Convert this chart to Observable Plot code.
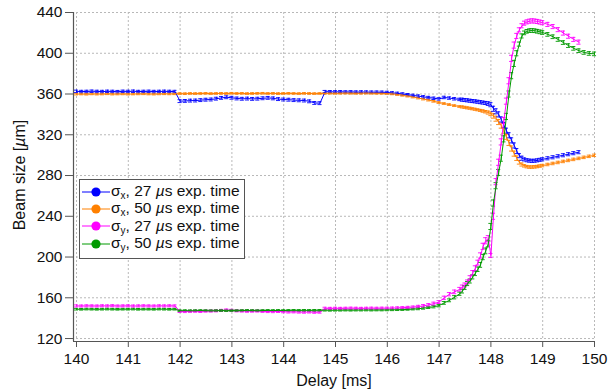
<!DOCTYPE html>
<html>
<head>
<meta charset="utf-8">
<script src="https://cdn.jsdelivr.net/npm/d3@7"></script>
<script src="https://cdn.jsdelivr.net/npm/@observablehq/plot@0.6"></script>
<style>
  html, body { margin: 0; padding: 0; background: #fff; }
  #wrap { position: relative; width: 614px; height: 389px; font-family: "Liberation Sans", Arial, sans-serif; color: #111; }
  #legend { position: absolute; left: 79px; top: 179px; width: 164px; height: 75px; border: 1.5px solid #555; background: #fff; padding-top: 3px; box-sizing: content-box; }
  .row { height: 17.3px; display: flex; align-items: center; font-size: 15.5px; white-space: nowrap; }
  .row svg { margin-left: 2px; margin-right: 1px; flex: none; }
  .row sub { font-size: 10px; vertical-align: -3px; }
  #ylab { position: absolute; left: 20px; top: 175px; transform: translate(-50%, -50%) rotate(-90deg); font-size: 16px; white-space: nowrap; }
  #xlab { position: absolute; left: 334px; top: 381px; transform: translate(-50%, -50%); font-size: 16px; white-space: nowrap; }
</style>
</head>
<body>
<div id="wrap"></div>
<script>
// ---------- data ----------
const delay = [
  140.0,140.1,140.2,140.3,140.4,140.5,140.6,140.7,140.8,140.9,
  141.0,141.1,141.2,141.3,141.4,141.5,141.6,141.7,141.8,141.9,
  142.0,142.1,142.2,142.3,142.4,142.5,142.6,142.7,142.8,142.9,
  143.0,143.1,143.2,143.3,143.4,143.5,143.6,143.7,143.8,143.9,
  144.0,144.1,144.2,144.3,144.4,144.5,144.6,144.7,144.8,144.9,
  145.0,145.1,145.2,145.3,145.4,145.5,145.6,145.7,145.8,145.9,
  146.0,146.1,146.2,146.3,146.4,146.5,146.6,146.7,146.8,146.9,
  147.0,147.1,147.2,147.3,147.4,
  147.45,147.5,147.55,147.6,147.65,147.7,147.75,147.8,147.85,147.9,147.95,148.0,
  148.05,148.1,148.15,148.2,148.25,148.3,148.35,148.4,148.45,148.5,
  148.55,148.6,148.65,148.7,148.75,148.8,148.85,148.9,148.95,149.0,
  149.1,149.2,149.3,149.4,149.5,149.6,149.7,149.8,149.9,150.0
];

const sigmaX27 = [
  362.6,362.4,362.5,362.7,362.5,362.4,362.6,362.5,362.3,362.6,
  362.5,362.7,362.4,362.5,362.6,362.4,362.5,362.6,362.5,362.4,
  353.0,353.2,353.5,353.6,354.0,354.4,354.6,355.4,356.2,356.8,
  356.3,355.6,355.3,355.5,355.2,355.4,355.8,356.2,355.7,355.0,
  354.6,354.4,354.0,353.8,353.6,352.8,351.2,351.0,362.3,362.2,
  362.1,362.2,362.0,362.1,361.9,362.0,361.9,361.8,361.8,361.7,
  361.5,361.1,360.6,360.0,359.3,358.6,357.9,357.2,356.5,355.8,
  355.2,356.6,356.0,355.3,354.7,
  354.4,354.1,353.8,353.4,353.1,352.8,352.4,352.0,351.6,351.2,350.6,349.5,
  345.5,343.0,340.0,335.0,329.5,324.0,319.5,314.5,309.5,304.0,
  299.5,297.0,295.8,295.0,294.6,294.4,294.5,294.9,295.4,295.9,
  296.9,297.9,298.9,299.9,300.9,301.9,302.9,null,null,null
];
const sigmaX50 = [
  359.9,360.0,359.8,360.1,359.9,360.0,360.2,359.9,360.0,360.1,
  359.9,360.0,360.1,360.2,360.0,359.9,360.1,360.2,360.1,360.2,
  360.4,360.3,360.5,360.4,360.5,360.6,360.4,360.5,360.6,360.5,
  360.7,360.5,360.6,360.4,360.5,360.6,360.7,360.5,360.6,360.4,
  360.5,360.6,360.5,360.4,360.6,360.5,360.4,360.5,360.6,360.7,
  360.6,360.7,360.8,360.7,360.6,360.7,360.8,360.7,360.6,360.6,
  360.5,360.1,359.5,358.7,357.9,357.0,356.0,355.0,354.0,352.8,
  351.6,350.6,349.6,348.6,347.7,
  347.3,346.9,346.4,346.0,345.5,345.0,344.5,343.9,343.3,342.6,341.8,340.6,
  338.5,335.8,332.5,329.0,324.0,318.0,312.0,306.5,301.5,297.0,
  293.0,290.8,289.5,288.7,288.3,288.3,288.5,288.8,289.3,289.8,
  290.8,291.8,292.8,293.8,294.8,295.8,296.8,297.8,298.8,299.8
];
const sigmaY27 = [
  152.0,151.9,152.1,152.0,151.9,152.1,152.0,152.2,151.9,152.0,
  152.1,151.9,152.0,152.1,152.0,151.9,152.1,152.0,152.1,152.0,
  146.6,146.5,146.7,146.8,146.6,146.9,147.0,147.2,147.6,148.0,
  147.7,147.2,147.0,146.8,146.9,147.0,146.7,146.5,146.4,146.6,
  146.3,146.1,146.2,146.0,145.9,146.1,145.8,145.9,149.7,149.6,
  149.7,149.6,149.7,149.8,149.7,149.6,149.7,149.8,149.7,149.8,
  149.8,149.9,150.1,150.3,150.6,150.9,151.4,152.1,153.1,154.3,
  155.8,160.0,163.5,165.8,168.4,
  170.5,172.5,175.5,179.5,184.5,189.0,194.5,201.5,210.5,216.0,218.0,201.5,
  240.0,274.0,293.0,313.0,334.0,353.0,373.0,395.0,408.0,417.0,
  423.0,427.0,429.5,430.8,431.5,431.8,431.6,431.2,430.6,430.0,
  428.3,426.2,423.2,419.8,416.7,413.6,410.9,null,null,null
];
const sigmaY50 = [
  148.8,148.7,148.9,148.8,148.7,148.8,148.9,148.8,148.7,148.8,
  148.8,148.9,148.7,148.8,148.8,148.7,148.9,148.8,148.7,148.8,
  147.3,147.4,147.3,147.4,147.5,147.4,147.3,147.4,147.5,147.4,
  147.5,147.4,147.5,147.6,147.5,147.4,147.5,147.6,147.5,147.6,
  147.5,147.6,147.7,147.6,147.7,147.6,147.7,147.7,147.8,147.7,
  147.8,147.8,147.9,147.8,147.9,147.9,148.0,147.9,148.0,148.0,
  148.1,148.2,148.3,148.4,148.6,148.9,149.3,149.8,150.5,151.3,
  152.3,155.0,157.5,160.5,164.0,
  166.5,170.0,174.0,176.5,180.5,184.0,188.0,192.3,200.0,206.0,213.0,230.0,
  253.0,270.0,283.0,297.0,316.0,338.0,360.0,378.0,390.0,400.0,
  409.0,417.0,420.0,421.5,422.2,422.3,422.1,421.6,421.0,420.3,
  418.5,416.2,413.5,410.5,407.5,404.8,402.5,400.8,399.8,399.4
];

// error bar half-heights (µm)
const errX27 = [
  1.2,1.2,1.2,1.2,1.2,1.2,1.2,1.2,1.2,1.2, 1.2,1.2,1.2,1.2,1.2,1.2,1.2,1.2,1.2,1.2,
  1.4,1.4,1.4,1.4,1.4,1.4,1.4,1.4,1.4,1.4, 1.4,1.4,1.4,1.4,1.4,1.4,1.4,1.4,1.4,1.4,
  1.4,1.4,1.4,1.4,1.4,1.4,1.4,1.4,1.2,1.2, 1.2,1.2,1.2,1.2,1.2,1.2,1.2,1.2,1.2,1.2,
  1.2,1.2,1.2,1.2,1.2,1.2,1.2,1.2,1.2,1.2, 1.2,1.2,1.2,1.2,1.2,
  1.5,1.5,1.5,1.5,1.5,1.5,1.5,1.5,1.5,1.5,1.8,2.0,
  2.5,2.5,2.5,2.5,2.5,2.5,2.5,2.5,2.5,2.5, 2.0,2.0,1.5,1.5,1.5,1.5,1.5,1.5,1.5,1.5,
  1.5,1.5,1.5,1.5,1.5,1.5,1.5,null,null,null
];
const errX50 = [
  0.8,0.8,0.8,0.8,0.8,0.8,0.8,0.8,0.8,0.8, 0.8,0.8,0.8,0.8,0.8,0.8,0.8,0.8,0.8,0.8,
  0.8,0.8,0.8,0.8,0.8,0.8,0.8,0.8,0.8,0.8, 0.8,0.8,0.8,0.8,0.8,0.8,0.8,0.8,0.8,0.8,
  0.8,0.8,0.8,0.8,0.8,0.8,0.8,0.8,0.8,0.8, 0.8,0.8,0.8,0.8,0.8,0.8,0.8,0.8,0.8,0.8,
  0.8,0.8,0.8,0.8,0.8,0.8,0.8,0.8,0.8,0.8, 0.8,0.8,0.8,0.8,0.8,
  1.0,1.0,1.0,1.0,1.0,1.0,1.0,1.0,1.2,1.2,1.5,1.8,
  2.2,2.5,2.5,2.5,2.5,2.5,2.5,2.5,2.5,2.2, 1.8,1.5,1.2,1.2,1.2,1.2,1.2,1.2,1.2,1.2,
  1.2,1.2,1.2,1.2,1.2,1.2,1.2,1.2,1.2,1.2
];
const errY27 = [
  1.0,1.0,1.0,1.0,1.0,1.0,1.0,1.0,1.0,1.0, 1.0,1.0,1.0,1.0,1.0,1.0,1.0,1.0,1.0,1.0,
  1.0,1.0,1.0,1.0,1.0,1.0,1.0,1.0,1.0,1.0, 1.0,1.0,1.0,1.0,1.0,1.0,1.0,1.0,1.0,1.0,
  1.0,1.0,1.0,1.0,1.0,1.0,1.0,1.0,1.0,1.0, 1.0,1.0,1.0,1.0,1.0,1.0,1.0,1.0,1.0,1.0,
  1.0,1.0,1.0,1.0,1.0,1.0,1.2,1.2,1.2,1.4, 1.4,1.6,1.6,1.8,1.8,
  2.0,2.0,2.0,2.2,2.2,2.4,2.4,2.6,3.0,3.0,3.0,2.0,
  3.0,3.0,3.0,3.0,3.0,3.0,3.0,3.0,3.0,2.5, 2.0,2.0,2.0,2.0,2.0,2.0,2.0,2.0,2.0,2.0,
  2.0,2.0,2.0,2.0,2.0,2.0,2.0,null,null,null
];
const errY50 = [
  0.8,0.8,0.8,0.8,0.8,0.8,0.8,0.8,0.8,0.8, 0.8,0.8,0.8,0.8,0.8,0.8,0.8,0.8,0.8,0.8,
  0.8,0.8,0.8,0.8,0.8,0.8,0.8,0.8,0.8,0.8, 0.8,0.8,0.8,0.8,0.8,0.8,0.8,0.8,0.8,0.8,
  0.8,0.8,0.8,0.8,0.8,0.8,0.8,0.8,0.8,0.8, 0.8,0.8,0.8,0.8,0.8,0.8,0.8,0.8,0.8,0.8,
  0.8,0.8,0.8,0.8,0.8,0.8,1.0,1.0,1.0,1.2, 1.2,1.4,1.4,1.6,1.6,
  1.8,1.8,2.0,2.0,2.0,2.2,2.2,2.4,2.6,2.8,3.0,3.0,
  3.0,3.0,3.0,3.0,3.0,3.0,3.0,3.0,3.0,2.5, 2.0,2.0,1.8,1.8,1.8,1.8,1.8,1.8,1.8,1.8,
  1.8,1.8,1.8,1.8,1.8,1.8,1.8,1.8,1.8,1.8
];

const seriesKeys = ["sx27", "sx50", "sy27", "sy50"];
const seriesColors = ["#0000ff", "#ff8000", "#ff00ff", "#009a00"];
const seriesLabels = [
  ["x", "27"], ["x", "50"], ["y", "27"], ["y", "50"]
];
const seriesValues = [sigmaX27, sigmaX50, sigmaY27, sigmaY50];
const seriesErrors = [errX27, errX50, errY27, errY50];

const xTicks = [140,141,142,143,144,145,146,147,148,149,150];
const yTicks = [120,160,200,240,280,320,360,400,440];
const xDomain = [139.942, 150];
const yDomain = [117.1, 440];

// ---------- table ----------
const rows = [];
seriesKeys.forEach((key, s) => {
  delay.forEach((x, i) => {
    const v = seriesValues[s][i];
    if (v != null) rows.push({key, x, y: v, e: seriesErrors[s][i]});
  });
});
const capHalf = 0.04;
const axisColor = "#555";

const chart = Plot.plot({
  width: 614,
  height: 389,
  marginLeft: 73,
  marginRight: 20,
  marginTop: 12,
  marginBottom: 48,
  style: {fontFamily: "Liberation Sans, Arial, sans-serif", fontSize: "15.5px", color: "#111", background: "#fff"},
  x: {domain: xDomain},
  y: {domain: yDomain},
  color: {domain: seriesKeys, range: seriesColors},
  marks: [
    Plot.ruleX(xTicks, {y1: yTicks[0], y2: yTicks[yTicks.length - 1], stroke: "#b8b8b8", strokeDasharray: "2,2"}),
    Plot.ruleY(yTicks, {x1: xTicks[0], x2: xTicks[xTicks.length - 1], stroke: "#b8b8b8", strokeDasharray: "2,2"}),
    Plot.ruleX([xDomain[0]], {stroke: axisColor, strokeWidth: 1.2}),
    Plot.ruleY([yDomain[0]], {stroke: axisColor, strokeWidth: 1.2}),
    Plot.axisX(xTicks, {tickSize: 6, tickPadding: 5, label: null, stroke: axisColor, tickFormat: d => String(d)}),
    Plot.axisY(yTicks, {tickSize: 8, tickPadding: 3, label: null, stroke: axisColor, tickFormat: d => String(d)}),
    Plot.ruleX(rows, {x: "x", y1: d => d.y - d.e, y2: d => d.y + d.e, stroke: "key", strokeWidth: 0.9}),
    Plot.ruleY(rows, {y: d => d.y + d.e, x1: d => d.x - capHalf, x2: d => d.x + capHalf, stroke: "key", strokeWidth: 0.9}),
    Plot.ruleY(rows, {y: d => d.y - d.e, x1: d => d.x - capHalf, x2: d => d.x + capHalf, stroke: "key", strokeWidth: 0.9}),
    Plot.line(rows, {x: "x", y: "y", z: "key", stroke: "key", strokeWidth: 1})
  ]
});

const wrap = document.getElementById("wrap");
wrap.appendChild(chart);

// axis titles
const ylab = document.createElement("div");
ylab.id = "ylab";
ylab.innerHTML = "Beam size [<i>µ</i>m]";
wrap.appendChild(ylab);
const xlab = document.createElement("div");
xlab.id = "xlab";
xlab.textContent = "Delay [ms]";
wrap.appendChild(xlab);

// legend
const legend = document.createElement("div");
legend.id = "legend";
seriesKeys.forEach((key, i) => {
  const row = document.createElement("div");
  row.className = "row";
  const c = seriesColors[i];
  row.innerHTML =
    `<svg width="28" height="14"><line x1="0" y1="7" x2="28" y2="7" stroke="${c}" stroke-width="1"/><circle cx="14" cy="7" r="4.6" fill="${c}"/></svg>` +
    `<span>σ<sub>${seriesLabels[i][0]}</sub>, ${seriesLabels[i][1]} <i>µ</i>s exp. time</span>`;
  legend.appendChild(row);
});
wrap.appendChild(legend);
</script>
</body>
</html>
